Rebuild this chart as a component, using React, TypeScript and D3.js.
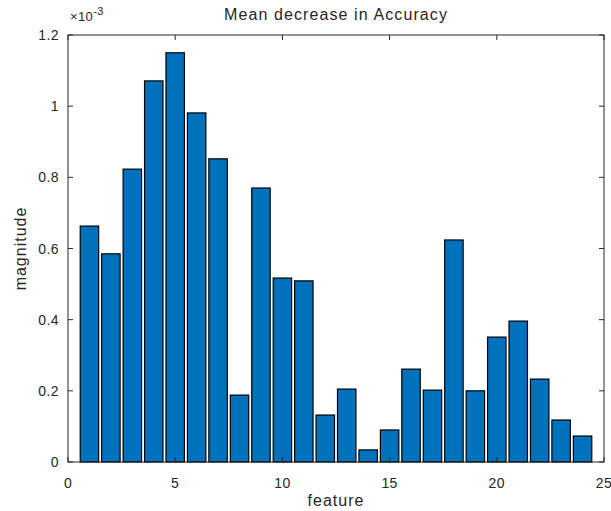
import * as d3 from "d3";

const features = d3.range(1, 25);
const magnitude = [
  0.663, 0.585, 0.823, 1.071, 1.15, 0.981, 0.852, 0.188, 0.77, 0.517, 0.509, 0.132,
  0.205, 0.034, 0.09, 0.261, 0.202, 0.624, 0.2, 0.351, 0.396, 0.233, 0.118, 0.073,
];
const xTicks = [0, 5, 10, 15, 20, 25];
const yTicks = [0, 0.2, 0.4, 0.6, 0.8, 1, 1.2];

export default function App() {
  const width = 611;
  const height = 511;
  const left = 68;
  const right = 604;
  const top = 35;
  const bottom = 462;
  const axisColor = "#262626";
  const font = "Arial, 'Liberation Sans', sans-serif";

  const x = d3.scaleLinear().domain([0, 25]).range([left, right]);
  const y = d3.scaleLinear().domain([0, 1.2]).range([bottom, top]);
  const barW = x(0.86) - x(0);

  return (
    <svg
      width={width}
      height={height}
      style={{ position: "absolute", left: 0, top: 0, background: "#fff" }}
      fontFamily={font}
    >
      {/* bars */}
      <g fill="#0072BD" stroke="#000" strokeWidth={1.2}>
        {features.map((f, i) => (
          <rect
            key={f}
            x={x(f) - barW / 2}
            y={y(magnitude[i])}
            width={barW}
            height={y(0) - y(magnitude[i])}
          />
        ))}
      </g>

      {/* axes box */}
      <rect
        x={left}
        y={top}
        width={right - left}
        height={bottom - top}
        fill="none"
        stroke={axisColor}
        strokeWidth={1}
      />

      {/* ticks, inside and mirrored */}
      <g stroke={axisColor}>
        {xTicks.map((t) => (
          <g key={t}>
            <line x1={x(t)} x2={x(t)} y1={bottom} y2={bottom - 5} />
            <line x1={x(t)} x2={x(t)} y1={top} y2={top + 5} />
          </g>
        ))}
        {yTicks.map((t) => (
          <g key={t}>
            <line x1={left} x2={left + 5} y1={y(t)} y2={y(t)} />
            <line x1={right} x2={right - 5} y1={y(t)} y2={y(t)} />
          </g>
        ))}
      </g>

      <g fill={axisColor} fontSize={14} letterSpacing={0.4}>
        {xTicks.map((t) => (
          <text key={t} x={x(t)} y={bottom + 26} textAnchor="middle">
            {t}
          </text>
        ))}
        {yTicks.map((t) => (
          <text key={t} x={left - 9} y={y(t) + 5} textAnchor="end">
            {t}
          </text>
        ))}
        <text x={left + 2} y={top - 14} fontSize={13}>
          ×10
          <tspan dy={-6} fontSize={11}>
            -3
          </tspan>
        </text>
      </g>
      <g fill={axisColor} fontSize={16} letterSpacing={1}>
        <text x={(left + right) / 2} y={bottom + 44} textAnchor="middle">
          feature
        </text>
        <text
          transform={`translate(26,${(top + bottom) / 2}) rotate(-90)`}
          textAnchor="middle"
        >
          magnitude
        </text>
        <text
          x={(left + right) / 2}
          y={top - 15}
          textAnchor="middle"
          letterSpacing={1.1}
        >
          Mean decrease in Accuracy
        </text>
      </g>
    </svg>
  );
}
